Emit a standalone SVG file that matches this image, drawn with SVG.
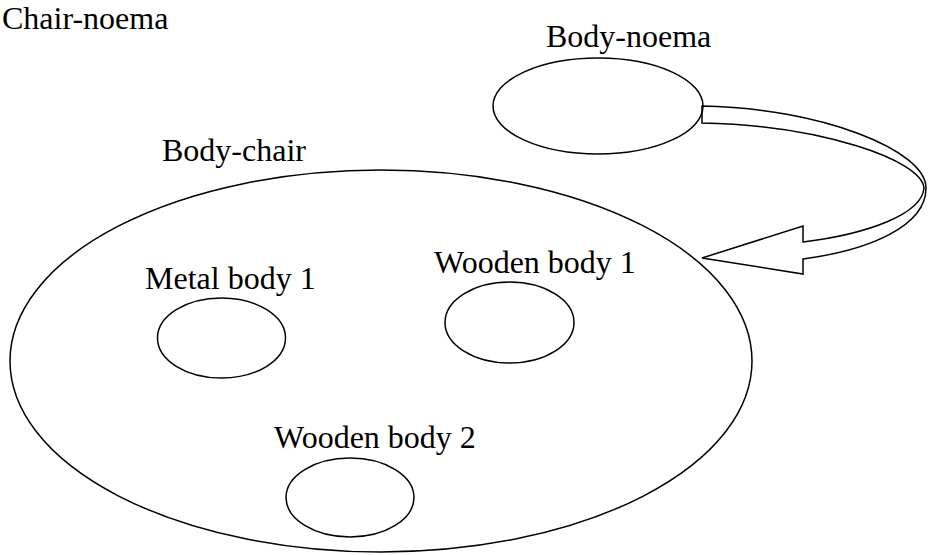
<svg xmlns="http://www.w3.org/2000/svg" width="929" height="555" viewBox="0 0 929 555">
<style>
.n{fill:none;stroke:#000;stroke-width:1.5}
.t{font-family:"Liberation Serif","Times New Roman",serif;font-size:32px;fill:#000}
</style>
<rect width="929" height="555" fill="#fff"/>
<g id="chair-noema"><text class="t" x="2" y="29">Chair-noema</text></g>
<g id="body-noema">
<ellipse class="n" cx="598" cy="106" rx="105" ry="48"/>
<text class="t" x="546" y="47">Body-noema</text>
</g>
<g id="body-chair">
<ellipse class="n" cx="381" cy="361" rx="371" ry="191"/>
<text class="t" x="162" y="161">Body-chair</text>
</g>
<g id="metal-body-1">
<ellipse class="n" cx="221.5" cy="338" rx="64" ry="40"/>
<text class="t" x="145" y="289">Metal body 1</text>
</g>
<g id="wooden-body-1">
<ellipse class="n" cx="509.5" cy="322.5" rx="64.5" ry="40.5"/>
<text class="t" x="434" y="273">Wooden body 1</text>
</g>
<g id="wooden-body-2">
<ellipse class="n" cx="350" cy="497.5" rx="64" ry="39.5"/>
<text class="t" x="274" y="448">Wooden body 2</text>
</g>
<g id="connectors">
<path class="n" stroke-linejoin="miter" d="M702,106 C820,108 926,150 926,188 C926,226 870,250 803,259 L803,274 L702,258 L803,226 L803,242 C868,234 922,214 924,188 C922,160 820,125 702,123 Z" fill="#fff"/>
</g>
</svg>
